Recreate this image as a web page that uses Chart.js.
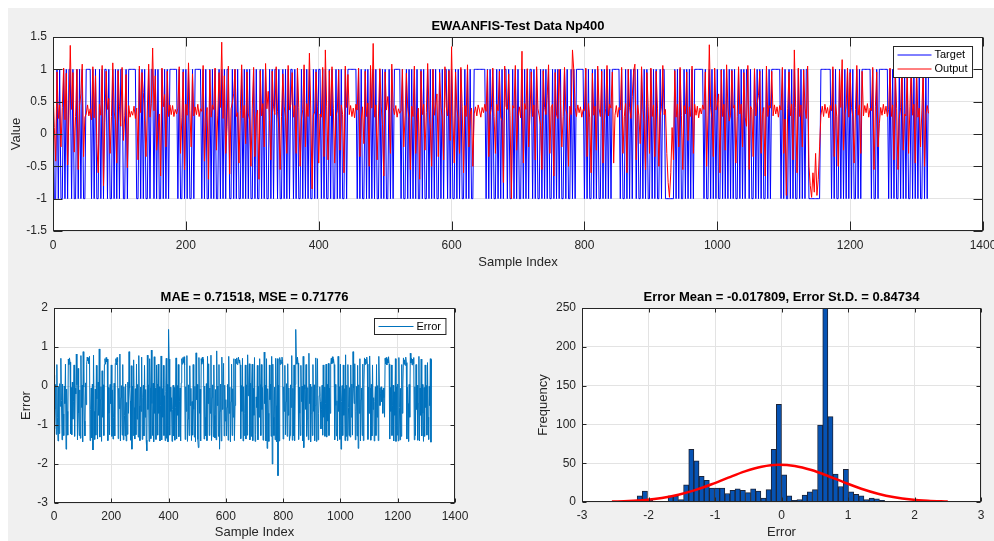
<!DOCTYPE html>
<html>
<head>
<meta charset="utf-8">
<script src="https://cdn.jsdelivr.net/npm/chart.js@4.4.1/dist/chart.umd.min.js"></script>
<style>
  html, body { margin: 0; padding: 0; background: #fff; overflow: hidden; }
  body { width: 994px; height: 541px; position: relative; }
  #fig { position: absolute; left: 8px; top: 8px; width: 986px; height: 533px; background: #f0f0f0; }
  canvas { position: absolute; }
  #topChart { left: 0; top: 0; }
  #errChart { left: 0; top: 270px; }
  #histChart { left: 530px; top: 270px; }
</style>
</head>
<body>
<div id="fig"></div>
<canvas id="topChart" width="1020" height="280"></canvas>
<canvas id="errChart" width="500" height="271"></canvas>
<canvas id="histChart" width="490" height="271"></canvas>
<script>
// every 2nd test sample
const sampleStep = 2;

// target class per sample, + is 1 and - is -1
const targetRows = [
  "+--+-+--+-+-++-+--+-+-+--++++-",
  "+-+--+-+-++-+--+-+-+-++--+-+++",
  "+++--+-+-+--+-++-+-+--+-+-+-++",
  "++++-+--+-+-+--+-+++++-+-+--+-",
  "+-+--+-+-+-++--+-+-+--+-+-+-+-",
  "-+-+--+-+-+--+-+-++-+--+-+-+-+",
  "+-+-+--+-+-+-+--+-+-++-+-+--+-",
  "+--+-+-+--+-+++++++-+-+--+-+-+",
  "-+-+--+-+-+--+-+-+++++-+--+-+-",
  "+-+-+--+-+--+-+-+-+--+-+-++-+-",
  "+--+-+-+--+-+-+--+++++++++-+-+",
  "-+--+-+-+-++-+--+-+-+--+-+-+-+",
  "+-+-+--+-+-+-+--+-+-+-+--+-+--",
  "+-+-++++++-+-+--+-+-+--+-+-+-+",
  "-++++++-+--+-+-+-++-+--+-+-+--",
  "+-+-+--+-++-------+-+-+--+-+-+",
  "-+-+++++++-+--+-+-+-+--+-+-+-+",
  "-+-+--+-+-+-++-+--+-+-+-+--+-+",
  "-+++++++-+-+--+-+-+--+-+-+-++-",
  "--------++++++++-+-+--+-+-+-+-",
  "+-+--+-+-+++++++-+--+-+++++++-",
  "+-+-+--+-+-+-+--+-+-+-+--+-+-+"
];

// network output per sample
const outputValues = [
  0.72, 0.1, -0.42, 0.96, 0.24, 0.45, -0.2, 0.41, 1.02, 0.22, 0.94, -0.48, 0.29, 1.37, 0.38, 0.95, -0.28, 0.27, 1.0, -0.55, 0.44, 0.62, 1.08, -0.35, 0.26, 0.31, 0.45, 0.28, 0.39, 0.22,
  1.04, 0.25, 0.9, -0.15, -0.6, 0.46, 0.29, 1.06, -0.8, 0.18, 0.97, 0.38, 0.55, -0.3, 0.27, 1.1, 0.34, 0.22, -0.45, 0.98, 0.43, 0.12, 1.03, -0.1, 0.28, 0.92, -0.52, 0.44, 0.26, 0.35,
  0.29, 0.43, 0.24, 0.4, -0.4, 1.05, 0.33, 0.95, 0.64, 0.21, -0.35, 0.37, 1.08, 0.26, 0.47, 1.33, 0.36, 0.9, -0.25, 0.05, 0.31, -0.65, 1.02, 0.42, 0.61, -0.2, 0.97, 0.27, 0.45, 0.3,
  0.44, 0.27, 0.38, 0.31, 0.4, 1.04, -0.3, 0.25, 0.96, -0.55, 0.46, 0.29, 1.1, 0.36, -0.2, 0.93, 0.28, 0.42, 0.3, 0.46, 0.27, 0.39, 0.35, 1.06, -0.42, 0.18, 0.41, -0.7, 0.99, 0.26,
  0.45, 0.38, 1.02, -0.25, 0.28, 0.95, 0.41, 1.42, 0.24, 0.9, -0.3, 0.12, 1.05, -0.62, 0.39, 0.48, 0.62, 1.0, 0.27, 0.33, -0.45, 0.36, 1.07, 0.25, 0.44, -0.15, 0.96, 0.31, 0.22, -0.5,
  0.4, 1.03, -0.35, 0.26, 0.37, -0.7, 0.98, 0.28, 0.47, -0.2, 1.09, 0.39, 0.66, 0.21, -0.4, 0.97, 0.42, 0.3, 1.04, 0.35, 0.08, -0.55, 0.27, 0.93, 0.43, 0.25, -0.3, 1.06, 0.37, 0.46,
  0.95, 0.26, 0.44, -0.3, 1.02, 0.41, -0.5, 0.23, 0.38, 1.07, -0.2, 0.47, 0.27, 1.25, 0.4, -0.85, 0.29, 0.34, 0.96, 0.43, -0.45, 0.31, 0.26, 1.03, -0.35, 1.3, 0.42, -0.4, 0.98, 0.28,
  1.04, 0.39, -0.45, 0.28, 0.36, 0.99, -0.25, 0.45, 0.3, -0.6, 1.05, 0.41, 0.92, 0.3, 0.44, 0.27, 0.4, 0.25, 0.46, 0.37, 1.02, -0.35, 0.22, 0.42, -0.15, 0.97, 0.27, 0.48, -0.5, 1.06,
  0.4, 1.4, 0.26, 0.45, -0.4, 0.31, 1.01, 0.43, 0.15, -0.65, 0.96, 0.37, 0.58, 0.27, -0.3, 1.08, 0.41, 0.3, 0.44, 0.26, 0.39, 0.32, 0.36, 1.0, -0.2, 0.28, 0.94, 0.4, 0.24, -0.55,
  0.43, 0.27, 1.05, -0.3, 0.21, 0.4, -0.7, 0.97, 0.3, 0.46, -0.25, 0.33, 1.09, 0.38, 0.1, -0.5, 1.0, 0.29, 0.45, 0.62, -0.35, 0.95, 0.41, 0.26, -0.4, 1.04, 0.42, 0.28, 0.98, -0.1,
  1.35, 0.28, -0.45, 0.96, 0.39, 0.24, -0.3, 1.03, 0.43, -0.6, 0.44, 0.27, 1.07, -0.2, 0.3, 0.4, -0.5, 0.31, 0.42, 0.28, 0.45, 0.37, 0.26, 0.41, 0.33, 0.46, 0.35, 0.99, -0.35, 0.29,
  0.41, 1.02, 0.27, -0.3, 0.46, 0.36, 0.97, 0.26, 0.2, -0.75, 1.05, 0.43, 0.38, 0.93, 0.29, -1.0, 0.44, 0.4, 1.06, -0.25, 0.27, 0.42, 0.25, 1.28, -0.45, 0.47, 0.38, 1.01, -0.2, 0.3,
  0.96, 0.27, 0.45, -0.4, 1.04, 0.39, 0.28, 0.13, -0.55, 0.98, 0.41, 0.3, 0.6, 1.07, -0.3, 0.42, 0.46, -0.65, 0.95, 0.29, 0.24, 1.0, 0.44, -0.2, 0.27, 1.03, 0.38, 0.29, -0.5, 0.43,
  0.3, 1.3, 0.98, 0.41, 0.27, 0.45, 0.33, 0.42, 0.26, 0.38, 0.36, 1.02, -0.35, 0.47, 0.25, -0.6, 0.94, 0.29, 0.43, -0.25, 1.05, 0.4, 0.27, 0.97, -0.45, 0.22, 0.39, 1.06, 0.28, 0.46,
  0.4, 0.96, -0.45, 0.29, 0.44, 0.26, 0.41, 0.37, 1.03, -0.3, 0.27, 0.47, -0.6, 1.0, 0.41, 0.24, 0.58, 0.97, 1.08, -0.4, 0.45, 0.29, -0.15, 1.04, 0.38, 0.16, -0.55, 0.95, 0.43, -0.3,
  1.02, 0.27, 0.45, -0.35, 0.97, 0.4, -0.5, 0.28, 0.42, 1.06, 0.3, 0.38, -0.3, -0.75, -0.98, -0.6, 0.1, -0.4, 0.98, 0.26, 0.46, -0.2, 1.03, 0.29, -0.55, 0.44, 0.31, 0.96, -0.1, 0.42,
  0.27, 1.05, -0.3, 0.46, 0.29, 0.43, 0.25, 0.4, 0.31, 0.45, 0.38, 0.96, -0.5, 0.28, 1.38, 0.41, 0.24, -0.35, 1.02, 0.37, 0.44, 0.62, -0.6, 0.99, 0.27, 0.46, -0.25, 1.07, 0.4, 0.2,
  0.29, 0.98, 0.4, 0.45, -0.45, 0.27, 1.04, 0.31, 0.46, -0.2, 0.95, 0.26, 0.12, 1.06, -0.55, 0.43, 0.38, -0.35, 1.01, 0.28, 0.47, 0.6, 0.97, -0.3, 0.3, 0.41, -0.65, 1.05, 0.27, 0.44,
  0.4, 0.97, 0.28, 0.45, 0.31, 0.42, 0.26, 0.44, 0.37, 1.03, -0.3, 0.23, -0.95, 0.39, 0.96, 0.28, 0.46, -0.4, 1.3, 0.41, -0.6, 1.02, 0.27, 0.45, -0.2, 0.99, 0.4, 0.24, 1.05, -0.5,
  -0.8, -0.98, -0.6, -0.9, -0.3, -0.95, -0.7, -0.2, 0.29, 0.43, 0.27, 0.46, 0.32, 0.41, 0.25, 0.44, 0.36, 1.04, -0.35, 0.46, 0.27, -0.5, 0.98, 0.41, 1.15, -0.25, 0.3, 0.42, 1.02, 0.26,
  0.95, 0.41, 0.27, -0.45, 0.38, 1.06, 0.29, 0.45, -0.3, 0.97, 0.28, 0.44, 0.33, 0.47, 0.26, 0.4, 0.36, 1.03, -0.55, 0.42, 0.96, -0.2, 0.16, 0.41, 0.29, 0.46, 0.31, 0.43, 0.27, 0.38,
  1.02, 0.27, 0.45, -0.4, 0.98, 0.39, -0.55, 0.24, 0.41, 1.05, -0.25, 0.31, 0.28, 0.96, -0.3, 0.42, 1.04, 0.29, 0.46, -0.45, 0.99, 0.26, 0.4, -0.2, 0.37, 1.01, -0.5, 0.3, 0.44, 0.32
];

// error histogram
const histStart = -2.17;
const histWidth = 0.0775;
const histCounts = [
  8, 14, 2, 1, 0, 0, 8, 8, 3, 22,
  68, 53, 33, 28, 18, 18, 18, 11, 15, 17,
  15, 12, 17, 14, 5, 16, 68, 126, 35, 8,
  2, 3, 9, 13, 16, 99, 250, 110, 36, 20,
  42, 13, 10, 8, 3, 5, 4, 2
];

// fitted normal curve
const fitX = [-2.55, -2.3, -2.05, -1.8, -1.55, -1.3, -1.05, -0.8, -0.55, -0.3, -0.05, 0.2, 0.45, 0.7, 0.95, 1.2, 1.45, 1.7, 1.95, 2.2, 2.5];
const fitY = [0.55, 1.28, 2.71, 5.26, 9.37, 15.28, 22.86, 31.36, 39.41, 45.41, 47.97, 46.44, 41.21, 33.52, 24.99, 17.08, 10.7, 6.14, 3.23, 1.56, 0.58];

const targetValues = targetRows.join('').split('').map(c => c === '+' ? 1 : -1);
const errorValues = targetValues.map((t, i) => t - outputValues[i]);

const xy = vals => vals.map((v, i) => ({ x: i * sampleStep, y: v }));

const FONT = '"Liberation Sans", Arial, sans-serif';
const TXT = '#262626';

// white axes box, inner tick marks on all sides, centred title and boxed legend
const matlabAxes = {
  id: 'matlabAxes',
  beforeDraw(chart) {
    const { ctx, chartArea: a } = chart;
    ctx.save();
    ctx.fillStyle = '#ffffff';
    ctx.fillRect(a.left, a.top, a.width, a.height);
    ctx.restore();
  },
  afterDraw(chart, args, opts) {
    const { ctx, chartArea: a, scales } = chart;
    const L = Math.round(a.left) + 0.5, R = Math.round(a.right) - 0.5;
    const T = Math.round(a.top) + 0.5, B = Math.round(a.bottom) - 0.5;
    const len = opts.tickLen;
    ctx.save();
    ctx.strokeStyle = TXT;
    ctx.lineWidth = 1;
    ctx.beginPath();
    scales.x.ticks.forEach(t => {
      const x = Math.round(scales.x.getPixelForValue(t.value)) + 0.5;
      ctx.moveTo(x, B); ctx.lineTo(x, B - len);
      ctx.moveTo(x, T); ctx.lineTo(x, T + len);
    });
    scales.y.ticks.forEach(t => {
      const y = Math.round(scales.y.getPixelForValue(t.value)) + 0.5;
      ctx.moveTo(L, y); ctx.lineTo(L + len, y);
      ctx.moveTo(R, y); ctx.lineTo(R - len, y);
    });
    ctx.stroke();
    ctx.strokeRect(L, T, R - L, B - T);

    ctx.fillStyle = '#000';
    ctx.font = 'bold 13px ' + FONT;
    ctx.textAlign = 'center';
    ctx.textBaseline = 'middle';
    ctx.fillText(opts.title, (a.left + a.right) / 2, a.top - 11);

    const lg = opts.legend;
    if (lg) {
      ctx.font = '11px ' + FONT;
      const tw = Math.max(...lg.items.map(it => ctx.measureText(it.label).width));
      const w = 4 + lg.lineLen + 3 + tw + 5;
      const h = lg.items.length * lg.rowH + lg.padY * 2;
      const bx = Math.round(a.right - lg.inset[0] - w) + 0.5;
      const by = Math.round(a.top + lg.inset[1]) + 0.5;
      ctx.fillStyle = '#fff';
      ctx.fillRect(bx, by, w, h);
      ctx.strokeStyle = TXT;
      ctx.strokeRect(bx, by, w, h);
      ctx.textAlign = 'left';
      lg.items.forEach((it, i) => {
        const y = by + lg.padY + lg.rowH * (i + 0.5);
        ctx.strokeStyle = it.color;
        ctx.beginPath();
        ctx.moveTo(bx + 4, y); ctx.lineTo(bx + 4 + lg.lineLen, y);
        ctx.stroke();
        ctx.fillStyle = '#000';
        ctx.fillText(it.label, bx + 4 + lg.lineLen + 3, y);
      });
    }
    ctx.restore();
  }
};

function axis(opt) {
  return {
    type: 'linear',
    min: opt.min, max: opt.max,
    offset: false,
    ticks: {
      stepSize: opt.step, color: TXT, font: { family: FONT, size: 12 }, padding: opt.tickPad,
      maxRotation: 0, autoSkip: false,
      callback: v => String(Math.round(v * 100) / 100)
    },
    grid: { color: '#e3e3e3', drawTicks: false, offset: false },
    border: { display: false },
    title: { display: true, text: opt.label, color: TXT, font: { family: FONT, size: 13 }, padding: opt.titlePad },
    afterFit: s => { if (opt.width) s.width = opt.width; if (opt.height) s.height = opt.height; }
  };
}

Chart.defaults.animation = false;

new Chart(document.getElementById('topChart'), {
  type: 'line',
  data: {
    datasets: [
      { label: 'Target', data: xy(targetValues), borderColor: '#0000ff', borderWidth: 1, pointRadius: 0, order: 2 },
      { label: 'Output', data: xy(outputValues), borderColor: '#ff0000', borderWidth: 1, pointRadius: 0, order: 1 }
    ]
  },
  options: {
    responsive: false,
    layout: { padding: { top: 37, right: 37, bottom: 5, left: 0 } },
    plugins: {
      legend: { display: false },
      tooltip: { enabled: false },
      matlabAxes: {
        title: 'EWAANFIS-Test Data Np400', tickLen: 9,
        legend: { inset: [11, 9], lineLen: 34, rowH: 14, padY: 1.5,
          items: [{ label: 'Target', color: '#0000ff' }, { label: 'Output', color: '#ff0000' }] }
      }
    },
    scales: {
      x: axis({ min: 0, max: 1400, step: 200, label: 'Sample Index', tickPad: 7, titlePad: { bottom: 5 }, height: 44 }),
      y: axis({ min: -1.5, max: 1.5, step: 0.5, label: 'Value', tickPad: 6, titlePad: { top: 9 }, width: 53 })
    }
  },
  plugins: [matlabAxes]
});

new Chart(document.getElementById('errChart'), {
  type: 'line',
  data: {
    datasets: [
      { label: 'Error', data: xy(errorValues), borderColor: '#0072bd', borderWidth: 1, pointRadius: 0 }
    ]
  },
  options: {
    responsive: false,
    layout: { padding: { top: 38, right: 45, bottom: 0, left: 0 } },
    plugins: {
      legend: { display: false },
      tooltip: { enabled: false },
      matlabAxes: {
        title: 'MAE = 0.71518, MSE = 0.71776', tickLen: 4,
        legend: { inset: [10, 10], lineLen: 35, rowH: 16, padY: 0,
          items: [{ label: 'Error', color: '#0072bd' }] }
      }
    },
    scales: {
      x: axis({ min: 0, max: 1400, step: 200, label: 'Sample Index', tickPad: 6, titlePad: { bottom: 1 }, height: 38 }),
      y: axis({ min: -3, max: 2, step: 1, label: 'Error', tickPad: 6, titlePad: { top: 19 }, width: 54 })
    }
  },
  plugins: [matlabAxes]
});

new Chart(document.getElementById('histChart'), {
  data: {
    datasets: [
      { type: 'line', label: 'Fit', data: fitX.map((x, i) => ({ x: x, y: fitY[i] })), borderColor: '#ff0000', borderWidth: 2.5, pointRadius: 0, cubicInterpolationMode: 'monotone', order: 1 },
      { type: 'bar', label: 'Counts', data: histCounts.map((c, i) => ({ x: histStart + histWidth * (i + 0.5), y: c })),
        backgroundColor: '#0653b4', borderColor: '#1c2438', borderWidth: 1, barPercentage: 1, categoryPercentage: 1, order: 2 }
    ]
  },
  options: {
    responsive: false,
    layout: { padding: { top: 38, right: 39, bottom: 0, left: 0 } },
    plugins: {
      legend: { display: false },
      tooltip: { enabled: false },
      matlabAxes: { title: 'Error Mean = -0.017809, Error St.D. = 0.84734', tickLen: 4 }
    },
    scales: {
      x: axis({ min: -3, max: 3, step: 1, label: 'Error', tickPad: 6, titlePad: { bottom: 1 }, height: 39 }),
      y: axis({ min: 0, max: 250, step: 50, label: 'Frequency', tickPad: 6, titlePad: { top: 6 }, width: 52 })
    }
  },
  plugins: [matlabAxes]
});
</script>
</body>
</html>
